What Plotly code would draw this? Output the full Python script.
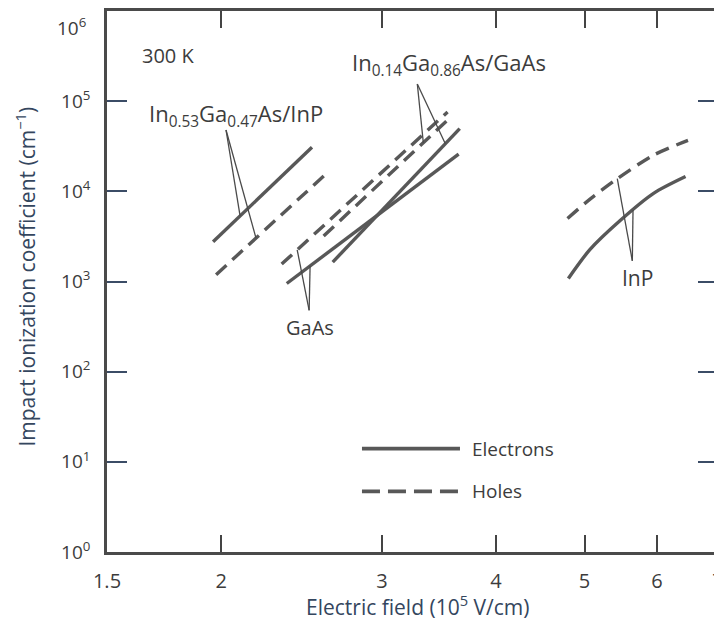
import numpy as np
import plotly.graph_objects as go

# ---------------- data (field in 1e5 V/cm, alpha in cm^-1) ----------------
field_ingaas_inp_e = [1.96, 2.515]
alpha_ingaas_inp_e = [2760, 30800]
field_ingaas_inp_h = [1.975, 2.60]
alpha_ingaas_inp_h = [1190, 15300]

field_gaas_e = [2.36, 3.64]
alpha_gaas_e = [950, 25900]
field_gaas_h = [2.33, 3.54]
alpha_gaas_h = [1560, 75900]

field_ingaas_gaas_e = [2.65, 3.65]
alpha_ingaas_gaas_e = [1640, 49700]
field_ingaas_gaas_h = [2.59, 3.58]
alpha_ingaas_gaas_h = [3200, 68700]

field_inp_e = [4.80, 5.07, 5.47, 5.95, 6.45]
alpha_inp_e = [1080, 2270, 4750, 9500, 14600]
field_inp_h = [4.79, 5.07, 5.43, 5.95, 6.49]
alpha_inp_h = [5000, 8200, 13800, 25200, 36700]

x_tick_vals = [1.5, 2, 3, 4, 5, 6, 7]
x_tick_text = ["1.5", "2", "3", "4", "5", "6", "7"]
y_tick_vals = [1, 10, 100, 1e3, 1e4, 1e5, 1e6]
y_tick_text = ["10<sup>0</sup>", "10<sup>1</sup>", "10<sup>2</sup>", "10<sup>3</sup>",
               "10<sup>4</sup>", "10<sup>5</sup>", "10<sup>6</sup>"]

# ---------------- styling ----------------
LINE_COLOR = "#585858"
TEXT_COLOR = "#3c3c3c"
TITLE_COLOR = "#34465e"
FONT = "Open Sans"
DASH = "14px,8px"

fig = go.Figure()

def add_curve(xs, ys, dashed, spline=False):
    fig.add_trace(go.Scatter(
        x=xs, y=ys, mode="lines", showlegend=False, hoverinfo="skip",
        line=dict(color=LINE_COLOR, width=3.4, dash=DASH if dashed else "solid",
                  shape="spline" if spline else "linear", smoothing=0.8)))

add_curve(field_ingaas_inp_e, alpha_ingaas_inp_e, False)
add_curve(field_ingaas_inp_h, alpha_ingaas_inp_h, True)
add_curve(field_gaas_e, alpha_gaas_e, False)
add_curve(field_gaas_h, alpha_gaas_h, True)
add_curve(field_ingaas_gaas_e, alpha_ingaas_gaas_e, False)
add_curve(field_ingaas_gaas_h, alpha_ingaas_gaas_h, True)
add_curve(field_inp_e, alpha_inp_e, False, spline=True)
add_curve(field_inp_h, alpha_inp_h, True, spline=True)

# ---------------- label pointer lines (targets interpolated on the curves) ----------------
def on_curve(xs, ys, x):
    return 10 ** np.interp(np.log10(x), np.log10(xs), np.log10(ys))

def pointer(origin, targets):
    for (xs, ys, xt) in targets:
        yt = on_curve(xs, ys, xt)
        fig.add_trace(go.Scatter(
            x=[origin[0], xt], y=[origin[1], yt], mode="lines", showlegend=False,
            hoverinfo="skip", line=dict(color="#4a4a4a", width=1.3)))

pointer((2.025, 10 ** 4.68), [(field_ingaas_inp_e, alpha_ingaas_inp_e, 2.098),
                              (field_ingaas_inp_h, alpha_ingaas_inp_h, 2.184)])
pointer((2.497, 10 ** 2.68), [(field_gaas_h, alpha_gaas_h, 2.423),
                              (field_gaas_e, alpha_gaas_e, 2.503)])
pointer((3.28, 10 ** 5.19), [(field_ingaas_gaas_h, alpha_ingaas_gaas_h, 3.33),
                             (field_ingaas_gaas_e, alpha_ingaas_gaas_e, 3.52)])
pointer((5.64, 10 ** 3.23), [(field_inp_h, alpha_inp_h, 5.43),
                             (field_inp_e, alpha_inp_e, 5.65)])

# ---------------- text labels ----------------
def label(text, lx, ly, xanchor="left", size=20):
    fig.add_annotation(x=lx, y=ly, xref="x", yref="y", text=text, showarrow=False,
                       xanchor=xanchor, yanchor="middle",
                       font=dict(family=FONT, size=size, color=TEXT_COLOR))

label("300 K", 0.2122, 5.505, size=20)
label("In<sub>0.53</sub>Ga<sub>0.47</sub>As/InP", 0.2199, 4.85, size=22)
label("In<sub>0.14</sub>Ga<sub>0.86</sub>As/GaAs", 0.4423, 5.41, size=22)
label("GaAs", 0.3984, 2.495, xanchor="center", size=20)
label("InP", 0.7566, 3.044, xanchor="center", size=21)

# legend (drawn manually inside the plot)
for y_p, dash, txt in [(0.191, "solid", "Electrons"), (0.112, "18px,8px", "Holes")]:
    fig.add_shape(type="line", xref="paper", yref="paper", x0=0.4173, x1=0.5777,
                  y0=y_p, y1=y_p, line=dict(color=LINE_COLOR, width=3.6, dash=dash))
    fig.add_annotation(x=0.594, y=y_p, xref="paper", yref="paper", text=txt,
                       showarrow=False, xanchor="left", yanchor="middle",
                       font=dict(family=FONT, size=19, color=TEXT_COLOR))

# top y tick label would be clipped at the page edge: draw it just below its tick
y_tick_text_axis = y_tick_text[:-1] + [""]
fig.add_annotation(x=-0.031, y=6, xref="paper", yref="y", text=y_tick_text[-1],
                   showarrow=False, xanchor="right", yanchor="top",
                   font=dict(family=FONT, size=19, color=TEXT_COLOR))

# axis titles
fig.add_annotation(x=0.509, y=-0.0993, xref="paper", yref="paper",
                   text="Electric field (10<sup>5</sup> V/cm)", showarrow=False,
                   xanchor="center", yanchor="middle",
                   font=dict(family=FONT, size=21, color=TITLE_COLOR))
fig.add_annotation(x=-0.1326, y=0.509, xref="paper", yref="paper",
                   text="Impact ionization coefficient (cm<sup>−1</sup>)", showarrow=False,
                   textangle=-90, xanchor="center", yanchor="middle",
                   font=dict(family=FONT, size=21, color=TITLE_COLOR))

# the page adds an 8 px body margin, so the figure is laid out 8 px smaller/shifted
fig.update_layout(
    width=714, height=624,
    margin=dict(l=99, r=4, t=3, b=80, autoexpand=False),
    paper_bgcolor="white", plot_bgcolor="white",
    showlegend=False,
    font=dict(family=FONT, color=TEXT_COLOR),
    xaxis=dict(type="log", range=[np.log10(1.5), np.log10(7)],
               tickvals=x_tick_vals, ticktext=x_tick_text, automargin=False,
               ticks="inside", ticklen=17, tickwidth=1.6, tickcolor="#444",
               showline=True, linecolor="#4a4a4a", linewidth=2.5, mirror="ticks",
               showgrid=False, zeroline=False, ticklabelstandoff=9,
               ticklabeloverflow="allow",
               tickfont=dict(family=FONT, size=20, color=TEXT_COLOR)),
    yaxis=dict(type="log", range=[0, 6],
               tickvals=y_tick_vals, ticktext=y_tick_text_axis, automargin=False,
               ticks="inside", ticklen=20, tickwidth=1.6, tickcolor="#3b4c66",
               showline=True, linecolor="#4a4a4a", linewidth=2.5, mirror="ticks",
               showgrid=False, zeroline=False, ticklabelstandoff=10,
               ticklabeloverflow="allow",
               tickfont=dict(family=FONT, size=19, color=TEXT_COLOR)),
)

fig.write_html("out.html")
